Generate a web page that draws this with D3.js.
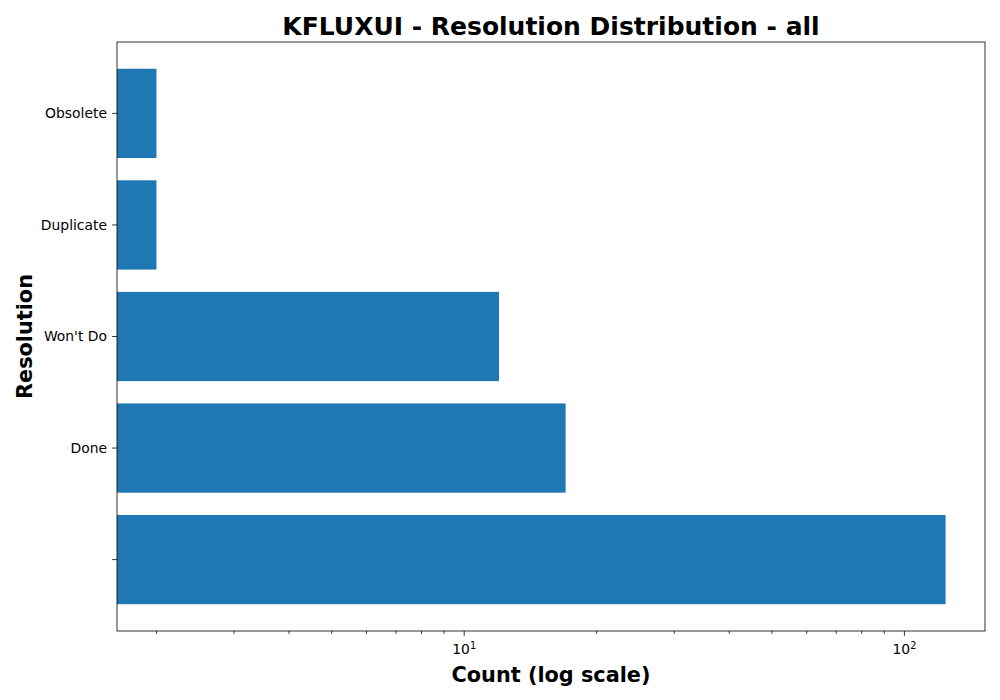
<!DOCTYPE html>
<html>
<head>
<meta charset="utf-8">
<script src="https://cdn.jsdelivr.net/npm/d3@7"></script>
<style>
  body { margin: 0; background: #fff; }
  text { font-family: "DejaVu Sans", sans-serif; }
</style>
</head>
<body>
<div id="chart"></div>
<script>
// data, bottom to top as drawn
var categories = ["", "Done", "Won't Do", "Duplicate", "Obsolete"],
  counts = [124, 17, 12, 2, 2],
  majorTicks = [10, 100],
  majorLabels = ["1", "2"],
  minorTicks = [2, 3, 4, 5, 6, 7, 8, 9, 20, 30, 40, 50, 60, 70, 80, 90];

var W = 1000, H = 700,
  margin = { top: 42, right: 15, bottom: 69, left: 117 },
  width = W - margin.left - margin.right,
  height = H - margin.top - margin.bottom,
  barColor = "#1f77b4";

// matplotlib-style log autoscale with 5% margins
var lo = Math.log10(d3.min(counts)),
  hi = Math.log10(d3.max(counts)),
  pad = (hi - lo) * 0.05;

var x = d3.scaleLog()
  .domain([Math.pow(10, lo - pad), Math.pow(10, hi + pad)])
  .range([0, width]);

var n = categories.length,
  ypad = (n - 1 + 0.8) * 0.05;
var y = d3.scaleLinear()
  .domain([-0.4 - ypad, n - 1 + 0.4 + ypad])
  .range([height, 0]);

var svg = d3.select("#chart").append("svg")
  .attr("width", W)
  .attr("height", H);

var g = svg.append("g")
  .attr("transform", "translate(" + margin.left + "," + margin.top + ")");

g.append("clipPath").attr("id", "clip")
  .append("rect").attr("width", width).attr("height", height);

g.append("g").attr("clip-path", "url(#clip)")
  .selectAll("rect")
  .data(counts)
  .enter().append("rect")
  .attr("x", 0)
  .attr("y", function (d, i) { return y(i + 0.4); })
  .attr("width", function (d) { return x(d); })
  .attr("height", function (d, i) { return y(i - 0.4) - y(i + 0.4); })
  .attr("fill", barColor);

// x axis, major ticks with 10^n labels
var xAxis = g.append("g")
  .attr("transform", "translate(0," + height + ")");

xAxis.selectAll(".minor")
  .data(minorTicks.filter(function (t) { return x(t) >= 0 && x(t) <= width; }))
  .enter().append("line")
  .attr("x1", function (d) { return x(d); })
  .attr("x2", function (d) { return x(d); })
  .attr("y1", 0).attr("y2", 2.8)
  .attr("stroke", "#000").attr("stroke-width", 0.8);

var maj = xAxis.selectAll(".major")
  .data(majorTicks)
  .enter().append("g")
  .attr("transform", function (d) { return "translate(" + x(d) + ",0)"; });

maj.append("line")
  .attr("y1", 0).attr("y2", 4.9)
  .attr("stroke", "#000").attr("stroke-width", 0.8);

var lab = maj.append("text")
  .attr("y", 23)
  .attr("text-anchor", "middle")
  .style("font-size", "13.9px");
lab.append("tspan").text("10");
lab.append("tspan")
  .attr("dy", -5)
  .style("font-size", "9.7px")
  .text(function (d, i) { return majorLabels[i]; });

// y axis
var yAxis = g.append("g");
var yt = yAxis.selectAll(".yt")
  .data(categories)
  .enter().append("g")
  .attr("transform", function (d, i) { return "translate(0," + y(i) + ")"; });

yt.append("line")
  .attr("x1", -4.9).attr("x2", 0)
  .attr("stroke", "#000").attr("stroke-width", 0.8);

yt.append("text")
  .attr("x", -10)
  .attr("dy", "0.35em")
  .attr("text-anchor", "end")
  .style("font-size", "13.9px")
  .text(function (d) { return d; });

// frame
g.append("rect")
  .attr("width", width).attr("height", height)
  .attr("fill", "none")
  .attr("stroke", "#000").attr("stroke-width", 0.8);

// titles
svg.append("text")
  .attr("x", margin.left + width / 2)
  .attr("y", 35)
  .attr("text-anchor", "middle")
  .style("font-size", "25px")
  .style("font-weight", "bold")
  .text("KFLUXUI - Resolution Distribution - all");

svg.append("text")
  .attr("x", margin.left + width / 2)
  .attr("y", 682)
  .attr("text-anchor", "middle")
  .style("font-size", "20.8px")
  .style("font-weight", "bold")
  .text("Count (log scale)");

svg.append("text")
  .attr("transform", "translate(32," + (margin.top + height / 2) + ") rotate(-90)")
  .attr("text-anchor", "middle")
  .style("font-size", "20.8px")
  .style("font-weight", "bold")
  .text("Resolution");
</script>
</body>
</html>
